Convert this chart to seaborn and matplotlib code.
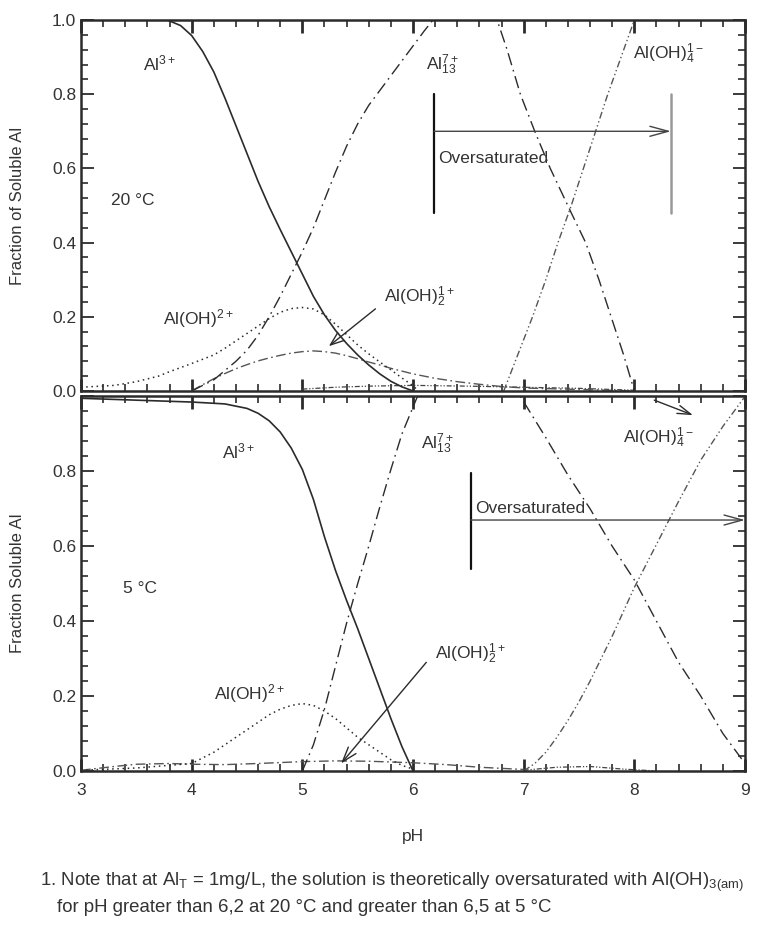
import numpy as np
import pandas as pd
import matplotlib
matplotlib.use("Agg")
import matplotlib.pyplot as plt
from matplotlib.ticker import MultipleLocator
import seaborn as sns

sns.set_theme(style="ticks")
plt.rcParams['font.family'] = ['Liberation Sans', 'DejaVu Sans']
plt.rcParams['mathtext.fontset'] = 'custom'
plt.rcParams['mathtext.rm'] = 'Liberation Sans'
plt.rcParams['mathtext.it'] = 'Liberation Sans:italic'
plt.rcParams['mathtext.bf'] = 'Liberation Sans:bold'

INK = '#2b2b2b'
TXT = '#333333'

# ── 20 °C panel ───────────────────────────────────────────────────────────────
t20_al3_ph = [3.0, 3.5, 3.78, 3.9, 4.0, 4.1, 4.2, 4.3, 4.4, 4.5, 4.6, 4.7, 4.8, 4.9, 5.0,
              5.1, 5.2, 5.3, 5.4, 5.5, 5.6, 5.7, 5.8, 5.9, 6.0]
t20_al3 = [1.0, 1.0, 1.0, 0.985, 0.958, 0.915, 0.86, 0.79, 0.715, 0.64, 0.565, 0.497, 0.435, 0.375, 0.315,
           0.255, 0.205, 0.163, 0.128, 0.097, 0.07, 0.046, 0.026, 0.011, 0.0]

t20_al13_ph = [4.0, 4.2, 4.4, 4.5, 4.6, 4.7, 4.8, 4.9, 5.0, 5.1, 5.2, 5.3, 5.4, 5.5, 5.6, 5.7,
               5.8, 5.9, 6.0, 6.1, 6.18, 6.76, 6.85, 6.97, 7.1, 7.24, 7.43, 7.56, 7.68, 7.79, 7.9, 8.0]
t20_al13 = [0.0, 0.03, 0.08, 0.11, 0.15, 0.2, 0.255, 0.315, 0.375, 0.44, 0.515, 0.59, 0.66, 0.72, 0.77, 0.81,
            0.85, 0.89, 0.93, 0.97, 1.0, 1.0, 0.92, 0.8, 0.7, 0.6, 0.48, 0.4, 0.3, 0.2, 0.1, 0.0]

t20_aloh4_ph = [6.82, 6.95, 7.08, 7.2, 7.31, 7.43, 7.54, 7.65, 7.76, 7.88, 8.0, 9.0]
t20_aloh4 = [0.0, 0.1, 0.2, 0.3, 0.4, 0.5, 0.6, 0.7, 0.8, 0.9, 1.0, 1.0]

t20_aloh_ph = [3.0, 3.3, 3.5, 3.7, 3.8, 4.0, 4.2, 4.3, 4.4, 4.5, 4.6, 4.7, 4.8, 4.9, 5.0,
               5.1, 5.2, 5.3, 5.4, 5.5, 5.6, 5.7, 5.8, 5.9, 6.0, 6.05]
t20_aloh = [0.01, 0.015, 0.025, 0.04, 0.052, 0.074, 0.097, 0.115, 0.135, 0.155, 0.175, 0.195, 0.212, 0.222, 0.225,
            0.221, 0.205, 0.18, 0.152, 0.124, 0.1, 0.078, 0.057, 0.035, 0.014, 0.0]

t20_aloh2_ph = [4.0, 4.1, 4.2, 4.3, 4.4, 4.5, 4.6, 4.7, 4.8, 4.9, 5.0, 5.1, 5.2, 5.3, 5.4, 5.5,
                5.6, 5.7, 5.8, 6.0, 6.2, 6.4, 6.6, 6.8, 7.0, 7.5, 8.0]
t20_aloh2 = [0.0, 0.017, 0.033, 0.047, 0.06, 0.071, 0.081, 0.089, 0.096, 0.102, 0.106, 0.108, 0.106, 0.102, 0.095, 0.087,
             0.078, 0.07, 0.061, 0.046, 0.034, 0.025, 0.018, 0.012, 0.008, 0.004, 0.0]

t20_aloh3_ph = [5.0, 5.3, 5.6, 6.0, 6.5, 7.0, 7.5, 8.0]
t20_aloh3 = [0.005, 0.01, 0.013, 0.015, 0.013, 0.01, 0.007, 0.002]

# ── 5 °C panel ────────────────────────────────────────────────────────────────
t5_al3_ph = [3.0, 3.5, 4.0, 4.3, 4.5, 4.6, 4.7, 4.8, 4.9, 5.0, 5.1, 5.2, 5.3, 5.4, 5.5,
             5.6, 5.7, 5.8, 5.9, 6.0]
t5_al3 = [0.995, 0.99, 0.985, 0.98, 0.968, 0.955, 0.935, 0.905, 0.862, 0.805, 0.725, 0.625, 0.535, 0.455, 0.38,
          0.3, 0.22, 0.14, 0.065, 0.0]

t5_al13_ph = [5.0, 5.1, 5.2, 5.3, 5.4, 5.5, 5.6, 5.7, 5.8, 5.9, 6.04, 6.97, 7.2, 7.4, 7.6,
              7.8, 8.0, 8.2, 8.4, 8.6, 8.8, 9.0]
t5_al13 = [0.0, 0.07, 0.165, 0.28, 0.395, 0.5, 0.6, 0.705, 0.805, 0.9, 1.0, 1.0, 0.89, 0.79, 0.7,
           0.6, 0.51, 0.4, 0.29, 0.2, 0.1, 0.02]

t5_aloh4_ph = [7.0, 7.1, 7.2, 7.3, 7.4, 7.5, 7.6, 7.7, 7.8, 7.9, 8.0, 8.2, 8.4, 8.6, 8.8, 9.0]
t5_aloh4 = [0.0, 0.02, 0.05, 0.09, 0.135, 0.185, 0.24, 0.3, 0.36, 0.425, 0.49, 0.605, 0.72, 0.83, 0.92, 1.0]

t5_aloh_ph = [3.0, 3.5, 4.0, 4.1, 4.2, 4.3, 4.4, 4.5, 4.6, 4.7, 4.8, 4.9, 5.0, 5.1, 5.2, 5.3,
              5.4, 5.5, 5.6, 5.7, 5.8, 5.9, 6.0]
t5_aloh = [0.002, 0.008, 0.02, 0.035, 0.05, 0.07, 0.09, 0.11, 0.13, 0.15, 0.165, 0.175, 0.18, 0.175, 0.16, 0.14,
           0.115, 0.09, 0.07, 0.05, 0.03, 0.015, 0.005]

t5_aloh2_ph = [3.0, 3.3, 3.5, 3.8, 4.0, 4.3, 4.6, 5.0, 5.3, 5.6, 6.0, 6.3, 6.6, 7.0]
t5_aloh2 = [0.002, 0.012, 0.018, 0.02, 0.018, 0.017, 0.02, 0.025, 0.027, 0.026, 0.022, 0.017, 0.01, 0.004]

t5_aloh3_ph = [7.0, 7.3, 7.6, 7.9, 8.2]
t5_aloh3 = [0.002, 0.01, 0.012, 0.005, 0.0]

xticks = [3, 4, 5, 6, 7, 8, 9]
yticks = [0.0, 0.2, 0.4, 0.6, 0.8, 1.0]

styles = {
    'al3':   dict(color=INK, lw=1.2, dashes=None),
    'al13':  dict(color=INK, lw=1.0, dashes=(9, 3.5, 1.2, 3.5)),
    'aloh4': dict(color='#555555', lw=1.0, dashes=(5, 2, 1, 2, 1, 2)),
    'aloh':  dict(color=INK, lw=1.1, dashes=(1, 2.4)),
    'aloh2': dict(color='#555555', lw=1.0, dashes=(7, 2.5, 1.2, 2.5)),
    'aloh3': dict(color='#444444', lw=0.9, dashes=(4, 1.5, 1, 1.5, 1, 1.5)),
}


def draw(ax, name, ph, frac):
    st = styles[name]
    df = pd.DataFrame({'pH': ph, 'frac': frac})
    sns.lineplot(data=df, x='pH', y='frac', ax=ax, color=st['color'], lw=st['lw'],
                 sort=False, estimator=None)
    if st['dashes'] is not None:
        ax.lines[-1].set_dashes(st['dashes'])


fig = plt.figure(figsize=(7.73, 9.26), dpi=100)
ax1 = fig.add_axes([0.1048, 0.5778, 0.859, 0.4006])
ax2 = fig.add_axes([0.1048, 0.1674, 0.859, 0.4045])

draw(ax1, 'aloh3', t20_aloh3_ph, t20_aloh3)
draw(ax1, 'aloh2', t20_aloh2_ph, t20_aloh2)
draw(ax1, 'aloh', t20_aloh_ph, t20_aloh)
draw(ax1, 'aloh4', t20_aloh4_ph, t20_aloh4)
draw(ax1, 'al13', t20_al13_ph, t20_al13)
draw(ax1, 'al3', t20_al3_ph, t20_al3)

draw(ax2, 'aloh3', t5_aloh3_ph, t5_aloh3)
draw(ax2, 'aloh2', t5_aloh2_ph, t5_aloh2)
draw(ax2, 'aloh', t5_aloh_ph, t5_aloh)
draw(ax2, 'aloh4', t5_aloh4_ph, t5_aloh4)
draw(ax2, 'al13', t5_al13_ph, t5_al13)
draw(ax2, 'al3', t5_al3_ph, t5_al3)

for ax in (ax1, ax2):
    ax.set_xlim(3, 9)
    ax.set_ylim(0, 1.0)
    ax.set_xticks(xticks)
    ax.set_yticks(yticks)
    ax.xaxis.set_minor_locator(MultipleLocator(0.2))
    ax.yaxis.set_minor_locator(MultipleLocator(0.04))
    ax.tick_params(which='both', direction='in', top=True, right=True, colors=INK)
    ax.tick_params(which='major', length=9, width=2.0, labelsize=12.5, labelcolor=TXT)
    ax.tick_params(which='minor', length=5, width=1.2)
    ax.tick_params(axis='y', which='major', width=1.3)
    for sp in ax.spines.values():
        sp.set_linewidth(1.8)
        sp.set_color(INK)

ax1.set_yticklabels([f'{v:.1f}' for v in yticks])
# bottom panel: its 1.0 label is hidden by the top panel's 0.0
ax2.set_yticklabels([f'{v:.1f}' for v in yticks[:-1]] + [''])

ax1.tick_params(axis='x', labelbottom=False)
ax1.set_xlabel('')
ax1.set_ylabel('Fraction of Soluble Al', fontsize=12, color=TXT, labelpad=10)
ax2.set_ylabel('Fraction Soluble Al', fontsize=12, color=TXT, labelpad=10)
ax2.set_xlabel('pH', fontsize=12.5, color=TXT, labelpad=22)
ax2.tick_params(axis='x', pad=9)
ax1.yaxis.set_label_coords(-0.085, 0.5)
ax2.yaxis.set_label_coords(-0.085, 0.5)

fs = 12.5
# labels, 20 °C
ax1.text(3.56, 0.865, 'Al$^{3+}$', fontsize=fs, color=TXT)
ax1.text(6.12, 0.865, 'Al$_{13}^{7+}$', fontsize=fs, color=TXT)
ax1.text(7.99, 0.895, 'Al(OH)$_4^{1-}$', fontsize=fs, color=TXT)
ax1.text(3.27, 0.5, '20 °C', fontsize=fs, color=TXT)
ax1.text(3.74, 0.18, 'Al(OH)$^{2+}$', fontsize=fs, color=TXT)
ax1.text(5.74, 0.24, 'Al(OH)$_2^{1+}$', fontsize=fs, color=TXT)
ax1.annotate('', xy=(5.22, 0.116), xytext=(5.68, 0.226),
             arrowprops=dict(arrowstyle='->,head_length=0.8,head_width=0.3', color=INK, lw=1.0))
ax1.plot([6.19, 6.19], [0.48, 0.80], color='#111111', lw=1.6)
ax1.plot([8.33, 8.33], [0.48, 0.80], color='#999999', lw=1.8)
ax1.annotate('', xy=(8.33, 0.70), xytext=(6.19, 0.70),
             arrowprops=dict(arrowstyle='->,head_length=1.1,head_width=0.3', color='#444444', lw=1.0,
                             shrinkA=0, shrinkB=0))
ax1.text(6.23, 0.615, 'Oversaturated', fontsize=fs, color=TXT)

# labels, 5 °C
ax2.text(4.27, 0.835, 'Al$^{3+}$', fontsize=fs, color=TXT)
ax2.text(6.07, 0.86, 'Al$_{13}^{7+}$', fontsize=fs, color=TXT)
ax2.text(7.9, 0.875, 'Al(OH)$_4^{1-}$', fontsize=fs, color=TXT)
ax2.annotate('', xy=(8.53, 0.95), xytext=(8.18, 0.99),
             arrowprops=dict(arrowstyle='->,head_length=0.8,head_width=0.25', color=INK, lw=1.0,
                             shrinkA=0, shrinkB=0))
ax2.text(3.38, 0.475, '5 °C', fontsize=fs, color=TXT)
ax2.text(4.2, 0.19, 'Al(OH)$^{2+}$', fontsize=fs, color=TXT)
ax2.text(6.2, 0.3, 'Al(OH)$_2^{1+}$', fontsize=fs, color=TXT)
ax2.annotate('', xy=(5.35, 0.02), xytext=(6.12, 0.29),
             arrowprops=dict(arrowstyle='->,head_length=0.9,head_width=0.3', color=INK, lw=1.0,
                             shrinkA=0, shrinkB=0))
ax2.plot([6.52, 6.52], [0.54, 0.795], color='#111111', lw=1.6)
ax2.annotate('', xy=(9.0, 0.67), xytext=(6.52, 0.67),
             arrowprops=dict(arrowstyle='->,head_length=1.1,head_width=0.3', color='#444444', lw=1.0,
                             shrinkA=0, shrinkB=0), annotation_clip=False)
ax2.text(6.56, 0.69, 'Oversaturated', fontsize=fs, color=TXT)

fig.text(0.052, 0.043, '1. Note that at Al$_\\mathrm{T}$ = 1mg/L, the solution is theoretically '
         'oversaturated with Al(OH)$_{3\\mathrm{(am)}}$', fontsize=13.4, color=TXT)
fig.text(0.074, 0.015, 'for pH greater than 6,2 at 20 °C and greater than 6,5 at 5 °C',
         fontsize=13.4, color=TXT)

fig.savefig('out.png', dpi=100)
